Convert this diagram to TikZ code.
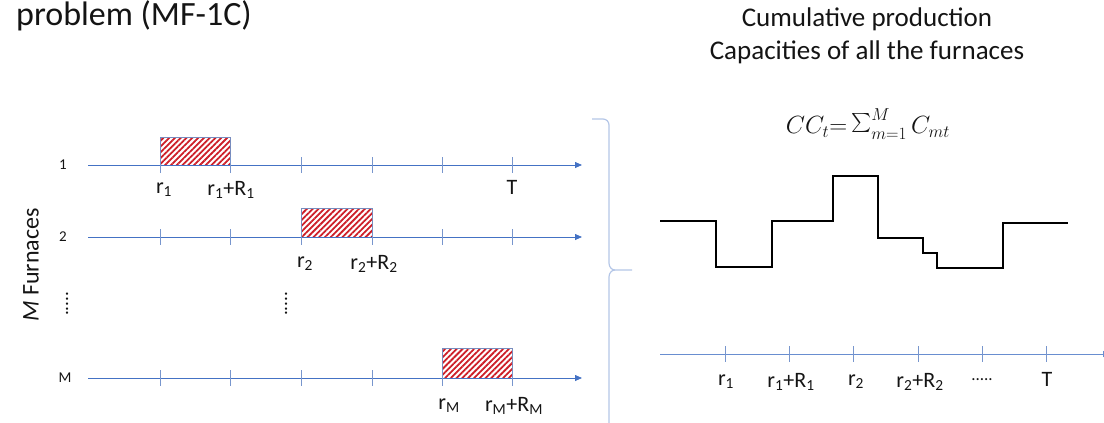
\documentclass[tikz,border=0pt]{standalone}
\usepackage{fontspec}
\setmainfont{Carlito}
\usetikzlibrary{patterns.meta,arrows.meta}
\definecolor{axisblue}{RGB}{68,114,196}
\definecolor{tickblue}{RGB}{120,150,205}
\definecolor{hatchred}{RGB}{205,30,40}
\definecolor{boxedge}{RGB}{120,140,190}
\definecolor{bracecol}{RGB}{180,198,231}
\definecolor{txt}{RGB}{20,20,20}
\newcommand{\bigsigma}{\mathop{\raisebox{-0.12ex}{\scalebox{1.9}{$\sum$}}}}
\begin{document}
\begin{tikzpicture}[x=1pt,y=-1pt,
  axisline/.style={draw=axisblue, line width=0.8pt, -{Triangle[length=7pt,width=6pt]}},
  tickline/.style={draw=tickblue, line width=0.6pt},
  job/.style={draw=boxedge, line width=0.7pt, pattern={Lines[angle=45,distance=4.1pt,line width=1.8pt]}, pattern color=hatchred},
  lab/.style={font=\fontsize{22}{26}\selectfont, inner sep=0pt, text=txt},
  rowlab/.style={font=\fontsize{15}{18}\selectfont, inner sep=0pt, text=txt},
  headtxt/.style={font=\fontsize{27}{32}\selectfont, inner sep=0pt, text=txt},
  stepline/.style={draw=black, line width=2.6pt, line join=miter},
  bracestyle/.style={draw=bracecol, line width=1.2pt}
]
\useasboundingbox (0,0) rectangle (1104,423);

% title
\node[font=\fontsize{34}{40}\selectfont, inner sep=0pt, anchor=base west, text=txt] (title) at (16,25) {problem (MF-1C)};

% vertical label
\node[font=\fontsize{24}{28}\selectfont, inner sep=0pt, rotate=90, text=txt] (mfurn) at (31,265) {\textit{M} Furnaces};

% row labels
\node[rowlab] (n1) at (63,165) {1};
\node[rowlab] (n2) at (63,237) {2};
\node[rowlab] (nM) at (65,378) {M};
\node[rowlab, font=\fontsize{19}{22}\selectfont, rotate=90] (vd1) at (67,304) {.....};
\node[rowlab, font=\fontsize{19}{22}\selectfont, rotate=90] (vd2) at (286,304) {.....};

% jobs (behind axes)
\draw[job] (160,137) rectangle (230,165);
\draw[job] (301,208) rectangle (372,237);
\draw[job] (442,348) rectangle (512,378);

% axes
\foreach \yy/\nm in {165/a, 237/b, 378/c}{
  \coordinate (\nm s) at (88,\yy);
  \coordinate (\nm e) at (582,\yy);
  \draw[axisline] (\nm s) -- (\nm e);
  \foreach \xx in {160,230,301,372,442,512}{
    \draw[tickline] (\xx,\yy-8) -- (\xx,\yy+8);
  }
}

% labels row 1
\node[lab] (l1a) at (164,190) {r\textsubscript{1}};
\node[lab] (l1b) at (231,190) {r\textsubscript{1}+R\textsubscript{1}};
\node[lab] (l1T) at (512,187) {T};
% row 2
\node[lab] (l2a) at (305,264) {r\textsubscript{2}};
\node[lab] (l2b) at (374,264) {r\textsubscript{2}+R\textsubscript{2}};
% row M
\node[lab] (lMa) at (449,406) {r\textsubscript{M}};
\node[lab] (lMb) at (514,406) {r\textsubscript{M}+R\textsubscript{M}};

% brace
\draw[bracestyle] (592,119) -- (603,119) to[out=0,in=90] (609,125) -- (609,263)
   to[out=-90,in=180] (615,270) -- (632,270);
\draw[bracestyle] (615,270) to[out=180,in=90] (609,277) -- (609,430);

% right heading
\node[headtxt, anchor=base] (h1) at (867,27) {Cumulative production};
\node[headtxt, anchor=base] (h2) at (867,59) {Capacities of all the furnaces};
\node[inner sep=0pt, font=\fontsize{26}{30}\selectfont, text=txt] (form) at (868,124) {$CC_t{=}\bigsigma_{m=1}^{M} C_{mt}$};

% step function
\draw[stepline] (660,221) -- (716,221) -- (716,267) -- (772,267) -- (772,221) -- (833,221)
  -- (833,176) -- (878,176) -- (878,238) -- (923,238) -- (923,253) -- (937,253)
  -- (937,268) -- (1003,268) -- (1003,223) -- (1068,223);

% right axis
\coordinate (ds) at (660,354);
\coordinate (de) at (1110,354);
\draw[axisline, draw=axisblue!80] (ds) -- (de);
\foreach \xx in {725,789,853,918,982,1046}{
  \draw[tickline] (\xx,346) -- (\xx,362);
}
\node[lab] (c1) at (726,382) {r\textsubscript{1}};
\node[lab] (c2) at (791,382) {r\textsubscript{1}+R\textsubscript{1}};
\node[lab] (c3) at (856,382) {r\textsubscript{2}};
\node[lab] (c4) at (920,382) {r\textsubscript{2}+R\textsubscript{2}};
\node[lab, font=\fontsize{17}{20}\selectfont] (c5) at (982,380) {.....};
\node[lab] (c6) at (1047,379) {T};
\end{tikzpicture}
\end{document}
